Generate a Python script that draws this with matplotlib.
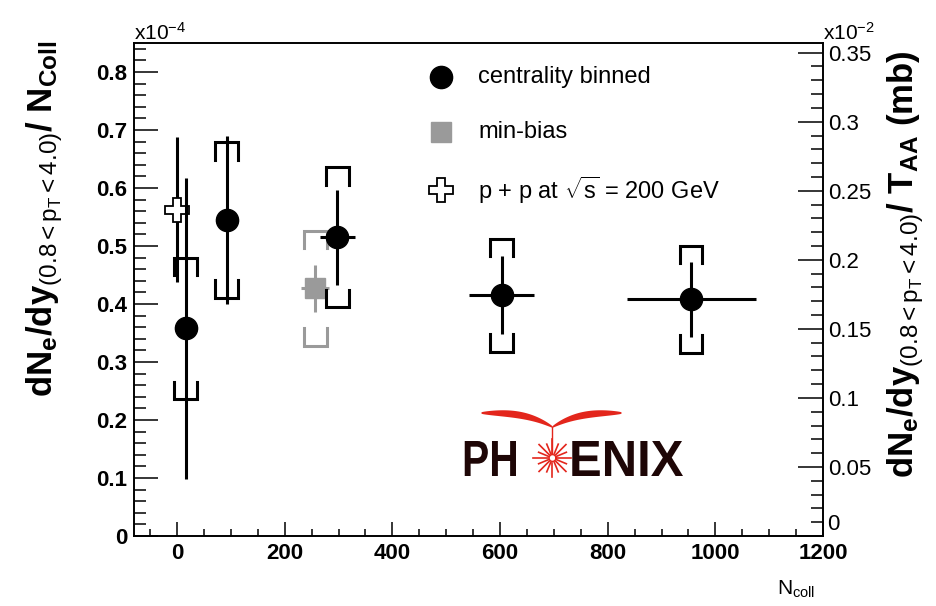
import matplotlib
matplotlib.use("Agg")
import matplotlib.pyplot as plt
import numpy as np
from matplotlib.ticker import MultipleLocator, FuncFormatter
from matplotlib.textpath import TextPath
from matplotlib.patches import PathPatch
from matplotlib.font_manager import FontProperties
from matplotlib.transforms import Affine2D

plt.rcParams['font.family'] = ['Liberation Sans', 'DejaVu Sans']
plt.rcParams['mathtext.fontset'] = 'custom'
plt.rcParams['mathtext.rm'] = 'Liberation Sans'
plt.rcParams['mathtext.it'] = 'Liberation Sans'
plt.rcParams['mathtext.bf'] = 'Liberation Sans:bold'

# centrality binned Au+Au
ncoll = [16, 92, 298, 603, 955]
ncoll_err = [4, 12, 33, 60, 120]
yield_cent = [0.358, 0.545, 0.515, 0.415, 0.408]
stat_cent = [0.26, 0.145, 0.082, 0.067, 0.065]
sys_cent = [0.122, 0.134, 0.121, 0.097, 0.092]

# min-bias
ncoll_mb = [257]
ncoll_err_mb = [26]
yield_mb = [0.427]
stat_mb = [0.040]
sys_mb = [0.099]

# p+p reference
ncoll_pp = [0]
yield_pp = [0.5625]
stat_pp = [0.125]

legend_labels = ["centrality binned", "min-bias", r"p + p at $\sqrt{s}$ = 200 GeV"]
xticks = [0, 200, 400, 600, 800, 1000, 1200]
sigma_inel = 42.0  # mb

W, H = 937, 606
fig = plt.figure(figsize=(W / 100, H / 100), dpi=100, facecolor='white')
ax = fig.add_axes([134 / W, 1 - 536 / H, 689 / W, 493 / H])
ax.set_xlim(-80, 1200)
ax.set_ylim(0, 0.85)

grey = '#9a9a9a'


def brackets(x, y, s, color, hw=21, leg=0.03, z=2):
    for xi, yi, si in zip(x, y, s):
        ax.plot([xi - hw, xi - hw, xi + hw, xi + hw],
                [yi + si - leg, yi + si, yi + si, yi + si - leg],
                color=color, lw=2.2, solid_joinstyle='miter', zorder=z)
        ax.plot([xi - hw, xi - hw, xi + hw, xi + hw],
                [yi - si + leg, yi - si, yi - si, yi - si + leg],
                color=color, lw=2.2, solid_joinstyle='miter', zorder=z)


# min-bias
brackets(ncoll_mb, yield_mb, sys_mb, grey)
ax.errorbar(ncoll_mb, yield_mb, yerr=stat_mb, xerr=ncoll_err_mb, fmt='s', ms=14,
            color=grey, mec=grey, elinewidth=2.2, capsize=0, zorder=3)

# p+p
ax.errorbar(ncoll_pp, yield_pp, yerr=stat_pp, fmt='P', ms=17, mfc='white',
            mec='black', mew=1.3, color='black', elinewidth=2.2, capsize=0, zorder=3)

# centrality
brackets(ncoll, yield_cent, sys_cent, 'black', z=4)
ax.errorbar(ncoll, yield_cent, yerr=stat_cent, xerr=ncoll_err, fmt='o', ms=16,
            color='black', elinewidth=2.2, capsize=0, zorder=5)

# axes style
for sp in ax.spines.values():
    sp.set_linewidth(1.2)
ax.xaxis.set_major_locator(MultipleLocator(200))
ax.xaxis.set_minor_locator(MultipleLocator(50))
ax.yaxis.set_major_locator(MultipleLocator(0.1))
ax.yaxis.set_minor_locator(MultipleLocator(0.02))
ax.set_xticks(xticks)
fmt = FuncFormatter(lambda v, p: '%g' % round(v, 4))
ax.yaxis.set_major_formatter(fmt)
ax.tick_params(axis='y', which='major', direction='in', length=17, width=1.1,
               labelsize=16, pad=5, right=False)
ax.tick_params(axis='y', which='minor', direction='in', length=8.6, width=1.1, right=False)
ax.tick_params(axis='x', which='major', direction='in', length=10, width=1.1,
               labelsize=16, pad=5, top=False)
ax.tick_params(axis='x', which='minor', direction='in', length=5, width=1.1, top=False)
for lab in ax.get_xticklabels() + ax.get_yticklabels():
    lab.set_fontweight('bold')

ax2 = ax.twinx()
ax2.set_ylim(0, 0.85 * sigma_inel / 100)
ax2.yaxis.set_major_locator(MultipleLocator(0.05))
ax2.yaxis.set_minor_locator(MultipleLocator(0.01))
# the zero label sits above the corner so it does not run into "1200"
ax2.yaxis.set_major_formatter(FuncFormatter(lambda v, p: '' if abs(v) < 1e-9 else '%g' % round(v, 4)))
ax2.tick_params(axis='y', which='major', direction='in', length=18, width=1.1,
                labelsize=16, pad=4)
ax2.tick_params(axis='y', which='minor', direction='in', length=8.6, width=1.1)
for sp in ax2.spines.values():
    sp.set_linewidth(1.2)
ax2.annotate('0', xy=(1, 0), xycoords='axes fraction', xytext=(3, 1),
             textcoords='offset points', ha='left', va='bottom', fontsize=16)

# exponent labels
fig.text(134 / W, 1 - 40 / H, r"x10$^{-4}$", ha='left', va='baseline', fontsize=15)
fig.text(823 / W, 1 - 40 / H, r"x10$^{-2}$", ha='left', va='baseline', fontsize=15)

# axis titles
fig.text(45 / W, 1 - 40 / H,
         r"$\mathbf{dN_{e}/dy}_{(0.8{<}p_{T}{<}4.0)}\mathbf{/\ N_{Coll}}$",
         rotation=90, ha='center', va='top', fontsize=25)
fig.text(906 / W, 1 - 50 / H,
         r"$\mathbf{dN_{e}/dy}_{(0.8{<}p_{T}{<}4.0)}\mathbf{/\ T_{AA}\ (mb)}$",
         rotation=90, ha='center', va='top', fontsize=25)
fig.text(815 / W, 1 - 595 / H, r"N$_{\rm coll}$", ha='right', va='baseline', fontsize=15)

# legend
leg_x, txt_x = 0.445, 0.4995
leg_y = [0.931, 0.8195, 0.702]
ax.plot([leg_x], [leg_y[0]], 'o', ms=16, color='black', transform=ax.transAxes, clip_on=False)
ax.plot([leg_x], [leg_y[1]], 's', ms=14, color=grey, transform=ax.transAxes, clip_on=False)
ax.plot([leg_x], [leg_y[2]], 'P', ms=17, mfc='white', mec='black', mew=1.3,
        transform=ax.transAxes, clip_on=False)
for yy, lab in zip(leg_y, legend_labels):
    ax.text(txt_x, yy, lab, transform=ax.transAxes, ha='left', va='center', fontsize=17)

# PHENIX logo, laid out in figure pixels (y measured from the top)
dark = '#1e0606'
red = '#e3261c'
bold = FontProperties(family='Liberation Sans', weight='bold')


def word(s, x0, x1, top, base):
    tp = TextPath((0, 0), s, size=100, prop=bold)
    v = tp.vertices
    bx0, bx1 = v[:, 0].min(), v[:, 0].max()
    by0, by1 = v[:, 1].min(), v[:, 1].max()
    tr = Affine2D().translate(-bx0, -by0).scale((x1 - x0) / (bx1 - bx0),
                                                (base - top) / (by1 - by0)).translate(x0, H - base)
    fig.add_artist(PathPatch(tp, transform=tr, color=dark, lw=0))


word("PH", 462, 516, 441, 476)
word("ENIX", 569, 683, 441, 476)

bcx, bcy = 552.5, 458.0


def pix(dx, dy):
    return (bcx + np.asarray(dx)) / W, 1 - (bcy + np.asarray(dy)) / H


t = np.linspace(0, 1, 80)
for side, span in ((-1, 71), (1, 69)):
    xs = side * span * t
    yc = -45 + 14 * (1 - t) ** 3
    th = 0.7 + 2.8 * np.sin(np.pi * t) ** 0.7
    xa, ya = pix(np.r_[xs, xs[::-1]], np.r_[yc - th, (yc + th)[::-1]])
    fig.patches.append(plt.Polygon(np.c_[xa, ya], closed=True, color=red, lw=0,
                                   transform=fig.transFigure, figure=fig))
xa, ya = pix([0, 0], [-31, -5])
fig.lines.append(plt.Line2D(xa, ya, color=red, lw=1.0, transform=fig.transFigure, figure=fig))
for k, a in enumerate(np.linspace(0, 2 * np.pi, 17)[:-1]):
    r1, r2 = 4.5, (19 if k % 2 == 0 else 15)
    xa, ya = pix([r1 * np.cos(a), r2 * np.cos(a)], [r1 * np.sin(a), r2 * np.sin(a)])
    fig.lines.append(plt.Line2D(xa, ya, color=red, lw=1.2, transform=fig.transFigure, figure=fig))
circ_a = np.linspace(0, 2 * np.pi, 40)
xa, ya = pix(3.4 * np.cos(circ_a), 3.4 * np.sin(circ_a))
fig.lines.append(plt.Line2D(xa, ya, color=red, lw=1.0, transform=fig.transFigure, figure=fig))

fig.savefig('out.png', dpi=100, facecolor='white')
